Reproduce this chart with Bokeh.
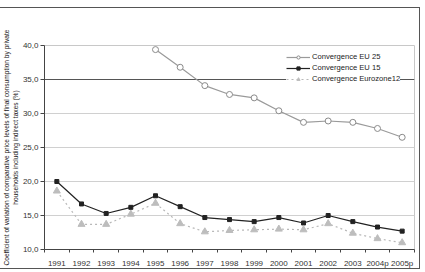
from bokeh.plotting import figure
from bokeh.models import (ColumnDataSource, FixedTicker, Legend, LegendItem, Span,
                          Title, CustomJSTickFormatter, Range1d)
from bokeh.embed import file_html
from bokeh.resources import INLINE

years = ["1991", "1992", "1993", "1994", "1995", "1996", "1997", "1998",
         "1999", "2000", "2001", "2002", "2003", "2004p", "2005p"]
eu25 = [None, None, None, None, 39.4, 36.8, 34.1, 32.8, 32.3, 30.4, 28.7,
        28.9, 28.7, 27.8, 26.5]
eu15 = [20.0, 16.7, 15.3, 16.2, 17.9, 16.3, 14.7, 14.4, 14.1, 14.7, 13.9,
        15.0, 14.1, 13.3, 12.7]
ez12 = [18.6, 13.7, 13.7, 15.2, 16.8, 13.8, 12.6, 12.8, 12.9, 13.0, 12.9,
        13.8, 12.4, 11.6, 11.0]
y_ticks = [10, 15, 20, 25, 30, 35, 40]

pos = list(range(len(years)))
FONT = "Liberation Sans"

p = figure(width=420, height=262, output_backend="svg", toolbar_location=None,
           x_range=Range1d(-0.5, len(years) - 0.5), y_range=Range1d(10, 40),
           min_border_left=4, min_border_right=6, min_border_top=37,
           min_border_bottom=20)
p.styles = {"margin-top": "7px", "border-top": "1px solid #555",
            "border-right": "1px solid #555", "border-bottom": "1px solid #555"}
p.outline_line_color = "#c8c8c8"
p.background_fill_color = "white"

# axes
p.xaxis.ticker = FixedTicker(ticks=pos, minor_ticks=[i - 0.5 for i in range(len(years) + 1)])
p.xaxis.major_label_overrides = {i: y for i, y in enumerate(years)}
p.xaxis.minor_tick_in = 0
p.xaxis.minor_tick_out = 3
p.xaxis.minor_tick_line_color = "#444444"
p.yaxis.ticker = FixedTicker(ticks=y_ticks)
p.yaxis.formatter = CustomJSTickFormatter(code="return tick.toFixed(1).replace('.', ',');")
p.yaxis.major_tick_in = 0
p.yaxis.major_tick_out = 4
p.yaxis.minor_tick_line_color = None
for ax in (p.xaxis[0], p.yaxis[0]):
    ax.axis_line_color = "#444444"
    ax.major_label_text_font = FONT
    ax.major_label_text_font_size = "8px"
    ax.major_label_text_color = "#333333"
p.xaxis.major_tick_line_color = None
p.yaxis.major_tick_line_color = "#444444"
p.xaxis.major_label_standoff = 3
p.yaxis.major_label_standoff = 2

p.xgrid.grid_line_color = None
p.ygrid.ticker = FixedTicker(ticks=[15, 20, 25, 30])
p.ygrid.grid_line_color = "#d0d0d0"

p.add_layout(Span(location=35, dimension="width", line_color="#555555",
                  line_width=1, level="underlay"))

# y axis title, two lines
p.add_layout(Title(text="households including indirect taxes (%)", align="center",
                   text_font=FONT, text_font_size="6.6px", text_font_style="normal",
                   text_color="#222222", standoff=1), "left")
p.add_layout(Title(text="Coefficient of variation of comparative price levels of final consumption by private",
                   align="center", text_font=FONT, text_font_size="6.6px",
                   text_font_style="normal", text_color="#222222", standoff=0), "left")

src = ColumnDataSource(dict(x=pos, eu25=[v if v is not None else float("nan") for v in eu25],
                            eu15=eu15, ez12=ez12))

l1 = p.line("x", "eu25", source=src, line_color="#9a9a9a", line_width=1.2)
m1 = p.scatter("x", "eu25", source=src, marker="circle", size=6,
               fill_color="white", line_color="#8a8a8a", line_width=1)
l2 = p.line("x", "eu15", source=src, line_color="#222222", line_width=1.2)
m2 = p.scatter("x", "eu15", source=src, marker="square", size=4,
               fill_color="#222222", line_color="#222222")
l3 = p.line("x", "ez12", source=src, line_color="#b8b8b8", line_width=1.2,
            line_dash="2 3")
m3 = p.scatter("x", "ez12", source=src, marker="triangle", size=7,
               fill_color="#bdbdbd", line_color="#bdbdbd")

legend = Legend(items=[LegendItem(label="Convergence EU 25", renderers=[l1, m1]),
                       LegendItem(label="Convergence EU 15", renderers=[l2, m2]),
                       LegendItem(label="Convergence Eurozone12", renderers=[l3, m3])],
                location=(242, 166), background_fill_color="white",
                background_fill_alpha=1, border_line_color=None,
                label_text_font=FONT, label_text_font_size="7.6px",
                label_text_color="#222222", glyph_width=24, glyph_height=8,
                label_height=8, spacing=2, padding=7, margin=0,
                label_standoff=2)
p.add_layout(legend, "center")

open("out.html", "w").write(file_html(p, INLINE))
